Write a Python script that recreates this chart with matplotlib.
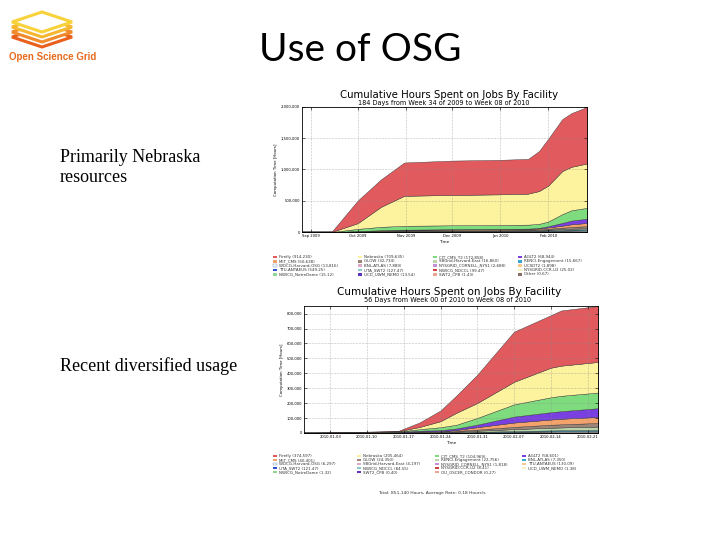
import numpy as np
import matplotlib
matplotlib.use('Agg')
import matplotlib.pyplot as plt
from matplotlib.patches import Polygon, Rectangle
from matplotlib.ticker import FuncFormatter

W, H = 720, 540

# palette used by both facility charts (same order as the legends)
site_colors = ['#e05a5e', '#fdf29e', '#7edc7e', '#7a3fe0', '#f4a36c', '#9c8478',
               '#b8d4a8', '#35a9cf', '#f4f8ff', '#d9a9c9', '#c38fd6', '#f9c98f',
               '#2f53cf', '#8ccaca', '#cf4040', '#f8efbf', '#92d492', '#5f33c2',
               '#eda48f', '#8c6f62']

# ---- chart 1: 184 days, week 34 of 2009 to week 08 of 2010 (thousand hours)
days1 = [0, 19, 36, 51, 66, 97, 127, 146, 153, 159, 168, 174, 184]
ticks1 = [6, 36, 67, 97, 128, 159]
ticklabels1 = ['Sep 2009', 'Oct 2009', 'Nov 2009', 'Dec 2009', 'Jan 2010', 'Feb 2010']
names1 = ['Firefly', 'Nebraska', 'CIT_CMS_T2', 'AGLT2', 'MIT_CMS', 'GLOW',
          'SBGrid-Harvard-East', 'RENCI-Engagement', 'WDCG-Harvard-OSG', 'BNL-ATLAS',
          'NYSGRID_CORNELL_NYS1', 'UCSDT2', 'TTU-ANTAEUS', 'UTA_SWT2', 'NWICG_NDCCL',
          'NYSGRID-CCR-U2', 'NWICG_NotreDame', 'UCD_UWM_NEMO', 'SWT2_CPB', 'Other']
totals1 = ['914,230', '709,635', '172,858', '68,944', '50,638', '32,734', '16,860',
           '15,667', '13,816', '7,889', '2,688', '1,898', '549.25', '127.47', '99.47',
           '25.02', '15.12', '13.54', '1.43', '0.67']
firefly1 = [0, 0, 363, 440, 533, 550, 552, 556, 640, 750, 830, 860, 904]
nebraska1 = [0, 0, 91, 320, 480, 485, 490, 496, 525, 575, 690, 695, 710]
cit1 = [0, 0, 35, 55, 62, 63, 64, 64, 65, 75, 140, 165, 173]
aglt1 = [0, 0, 0, 1, 2, 3, 3, 4, 8, 20, 45, 60, 69]
mit1 = [0, 0, 4, 8, 10, 11, 12, 13, 15, 20, 32, 42, 51]
glow1 = [0, 0, 5, 8, 10, 11, 12, 12, 13, 16, 22, 28, 33]
sbgrid1 = [0, 0, 2, 4, 5, 6, 6, 7, 8, 10, 13, 15, 17]
renci1 = [0, 0, 2, 3, 4, 5, 5, 6, 7, 9, 12, 14, 16]
wdcg1 = [0, 0, 1, 2, 3, 4, 5, 6, 7, 9, 11, 12, 14]
bnl1 = [0, 0, 1, 1, 2, 3, 3, 3, 4, 5, 6, 7, 8]
cornell1 = [0, 0, 0.2, 0.4, 0.6, 0.9, 1.2, 1.4, 1.6, 1.9, 2.2, 2.5, 2.69]
ucsd1 = [0, 0, 0.1, 0.2, 0.3, 0.5, 0.7, 0.9, 1.1, 1.3, 1.6, 1.8, 1.9]
ttu1 = [0, 0, 0.05, 0.1, 0.15, 0.2, 0.3, 0.35, 0.4, 0.45, 0.5, 0.53, 0.55]
uta1 = [0, 0, 0, 0.01, 0.02, 0.04, 0.06, 0.08, 0.09, 0.1, 0.11, 0.12, 0.127]
ndccl1 = [0, 0, 0, 0.01, 0.02, 0.03, 0.05, 0.06, 0.07, 0.08, 0.09, 0.095, 0.099]
ccr1 = [0, 0, 0, 0, 0.005, 0.01, 0.015, 0.018, 0.02, 0.022, 0.024, 0.025, 0.025]
notredame1 = [0, 0, 0, 0, 0.002, 0.005, 0.008, 0.01, 0.011, 0.012, 0.014, 0.015, 0.015]
ucd1 = [0, 0, 0, 0, 0.002, 0.004, 0.007, 0.009, 0.01, 0.011, 0.012, 0.013, 0.0135]
swt1 = [0, 0, 0, 0, 0, 0.0005, 0.0008, 0.001, 0.0011, 0.0012, 0.0013, 0.0014, 0.0014]
other1 = [0, 0, 0, 0, 0, 0.0002, 0.0003, 0.0004, 0.0005, 0.0006, 0.0006, 0.0007, 0.0007]

# ---- chart 2: 56 days, week 00 to week 08 of 2010 (thousand hours)
days2 = [0, 3, 11, 18, 22, 26, 29, 33, 40, 47, 49, 56]
ticks2 = [5, 12, 19, 26, 33, 40, 47, 54]
ticklabels2 = ['2010-01-03', '2010-01-10', '2010-01-17', '2010-01-24',
               '2010-01-31', '2010-02-07', '2010-02-14', '2010-02-21']
names2 = ['Firefly', 'Nebraska', 'CIT_CMS_T2', 'AGLT2', 'MIT_CMS', 'GLOW',
          'RENCI-Engagement', 'BNL-ATLAS', 'WDCG-Harvard-OSG', 'SBGrid-Harvard-East',
          'NYSGRID_CORNELL_NYS1', 'TTU-ANTAEUS', 'UTA_SWT2', 'NWICG_NDCCL',
          'NYSGRID-CCR-U2', 'UCD_UWM_NEMO', 'NWICG_NotreDame', 'SWT2_CPB',
          'OU_OSCER_CONDOR']
totals2 = ['374,597', '205,464', '104,969', '58,601', '40,401', '24,350', '22,756',
           '7,350', '6,297', '4,197', '1,818', '130.09', '121.47', '84.55', '8.41',
           '1.38', '1.32', '0.40', '0.27']
firefly2 = [0, 1, 2, 3, 30, 72, 115, 190, 336, 352, 370, 375]
nebraska2 = [0, 0, 1, 2, 15, 40, 80, 100, 151, 198, 202, 205]
cit2 = [0, 1, 1, 2, 10, 20, 25, 45, 82, 100, 103, 105]
aglt2 = [0, 0, 1, 2, 6, 7, 10, 17, 40, 49, 51, 58.6]
mit2 = [0, 0, 1, 2, 3, 3, 6, 16, 29, 35, 37, 40.4]
glow2 = [0, 0.5, 1, 1.5, 2, 3, 5, 8, 15, 20, 21, 24.35]
renci2 = [0, 0.3, 0.5, 1, 2, 2.5, 4, 7, 13, 18, 19, 22.76]
bnl2 = [0, 0.1, 0.2, 0.5, 1, 1.5, 2, 3, 5, 6.5, 6.8, 7.35]
wdcg2 = [0, 0.1, 0.2, 0.4, 0.6, 0.8, 1.5, 2.5, 4, 5.5, 5.8, 6.3]
sbgrid2 = [0, 0.1, 0.2, 0.3, 0.5, 0.7, 1, 1.5, 2.5, 3.5, 3.8, 4.2]
cornell2 = [0, 0, 0.1, 0.2, 0.3, 0.4, 0.5, 0.8, 1.2, 1.5, 1.6, 1.82]
ttu2 = [0, 0, 0, 0.01, 0.02, 0.03, 0.04, 0.06, 0.09, 0.11, 0.12, 0.13]
uta2 = [0, 0, 0, 0.01, 0.02, 0.03, 0.04, 0.05, 0.08, 0.1, 0.11, 0.121]
ndccl2 = [0, 0, 0, 0, 0.01, 0.02, 0.03, 0.04, 0.06, 0.07, 0.08, 0.085]
ccr2 = [0, 0, 0, 0, 0.001, 0.002, 0.003, 0.004, 0.006, 0.007, 0.008, 0.0084]
ucd2 = [0, 0, 0, 0, 0, 0.0002, 0.0004, 0.0006, 0.001, 0.0012, 0.0013, 0.00138]
notredame2 = [0, 0, 0, 0, 0, 0.0002, 0.0004, 0.0006, 0.0009, 0.0011, 0.0012, 0.00132]
swt2 = [0, 0, 0, 0, 0, 0, 0.0001, 0.0002, 0.0003, 0.00035, 0.00038, 0.0004]
ou2 = [0, 0, 0, 0, 0, 0, 0.0001, 0.0001, 0.0002, 0.00024, 0.00026, 0.00027]

layers1 = [firefly1, nebraska1, cit1, aglt1, mit1, glow1, sbgrid1, renci1, wdcg1,
           bnl1, cornell1, ucsd1, ttu1, uta1, ndccl1, ccr1, notredame1, ucd1, swt1, other1]
layers2 = [firefly2, nebraska2, cit2, aglt2, mit2, glow2, renci2, bnl2, wdcg2,
           sbgrid2, cornell2, ttu2, uta2, ndccl2, ccr2, ucd2, notredame2, swt2, ou2]


def fx(x):
    return x / W


def fy(y):
    return 1 - y / H


def draw_chart(ax, days, layers, ticks, ticklabels, ymax, ystep):
    vals = [np.array(l) * 1000 for l in layers]
    # first site sits on top of the stack
    ax.stackplot(days, *vals[::-1], colors=site_colors[:len(vals)][::-1],
                 edgecolor='#333333', linewidth=0.3)
    ax.set_xlim(days[0], days[-1])
    ax.set_ylim(0, ymax)
    ax.set_xticks(ticks)
    ax.set_xticklabels(ticklabels)
    ax.set_yticks(np.arange(0, ymax + 1, ystep))
    ax.yaxis.set_major_formatter(FuncFormatter(lambda v, p: f'{int(v):,}'))
    ax.tick_params(labelsize=2.7, length=2, width=0.4, direction='in',
                   top=True, right=True, pad=1.5)
    ax.grid(True, linestyle=':', color='#888888', linewidth=0.4)
    for s in ax.spines.values():
        s.set_linewidth(0.6)
    ax.set_xlabel('Time', fontsize=3, labelpad=1.5)
    ax.set_ylabel('Computation Time [Hours]', fontsize=2.8, labelpad=2)


def draw_legend(fig, names, totals, colx, rowy):
    for i, (n, t) in enumerate(zip(names, totals)):
        r, c = divmod(i, 4)
        x, y = colx[c], rowy[r]
        fig.patches.append(Rectangle((fx(x), fy(y + 1.4)), 4 / W, 2.8 / H,
                                     transform=fig.transFigure, facecolor=site_colors[i],
                                     edgecolor='#7090c0' if site_colors[i] == '#f4f8ff' else 'none',
                                     linewidth=0.3))
        fig.text(fx(x + 6), fy(y), f'{n} ({t})', fontsize=2.9, va='center',
                 color='#333333')


fig = plt.figure(figsize=(7.2, 5.4), dpi=100)

# slide text
fig.text(fx(360), fy(50), 'Use of OSG', fontsize=28, family='Lato',
         ha='center', va='center')
fig.text(fx(60), fy(157), 'Primarily Nebraska', fontsize=13,
         family='Liberation Serif', va='center')
fig.text(fx(60), fy(178), 'resources', fontsize=13,
         family='Liberation Serif', va='center')
fig.text(fx(60), fy(366), 'Recent diversified usage', fontsize=13,
         family='Liberation Serif', va='center')

# OSG logo
logo = fig.add_axes([0, 0, 1, 1], zorder=-1)
logo.set_xlim(0, W)
logo.set_ylim(H, 0)
logo.axis('off')
for k, col in enumerate(['#e8601c', '#f08a2a', '#f5b730', '#f7d23a']):
    cy = 37 - k * 5
    logo.add_patch(Polygon([(12, cy), (42, cy - 10), (72, cy), (42, cy + 10)],
                           closed=True, facecolor='white', edgecolor=col, linewidth=2.2))
fig.text(fx(9), fy(57), 'Open Science Grid', fontsize=7, fontweight='bold',
         color='#e86a1e', family='Liberation Sans', va='center')

# chart 1
ax1 = fig.add_axes([fx(302), fy(232), 285 / W, 125 / H])
draw_chart(ax1, days1, layers1, ticks1, ticklabels1, 2000000, 500000)
fig.text(fx(449), fy(95), 'Cumulative Hours Spent on Jobs By Facility',
         fontsize=7.3, ha='center', va='center')
fig.text(fx(444), fy(103), '184 Days from Week 34 of 2009 to Week 08 of 2010',
         fontsize=4.7, ha='center', va='center')
draw_legend(fig, names1, totals1, [273, 358, 433, 518], [257, 261.3, 265.6, 270, 274.3])

# chart 2
ax2 = fig.add_axes([fx(304), fy(433), 294 / W, 127 / H])
draw_chart(ax2, days2, layers2, ticks2, ticklabels2, 851140, 100000)
fig.text(fx(449), fy(292), 'Cumulative Hours Spent on Jobs By Facility',
         fontsize=7.5, ha='center', va='center')
fig.text(fx(448), fy(300), '56 Days from Week 00 of 2010 to Week 08 of 2010',
         fontsize=4.7, ha='center', va='center')
draw_legend(fig, names2, totals2, [273, 357, 435, 522], [456, 460, 464, 468, 472])
fig.text(fx(432), fy(493), 'Total: 851,140 Hours, Average Rate: 0.18 Hours/s',
         fontsize=3.2, ha='center', va='center', color='#333333')

fig.savefig('out.png', dpi=100)
